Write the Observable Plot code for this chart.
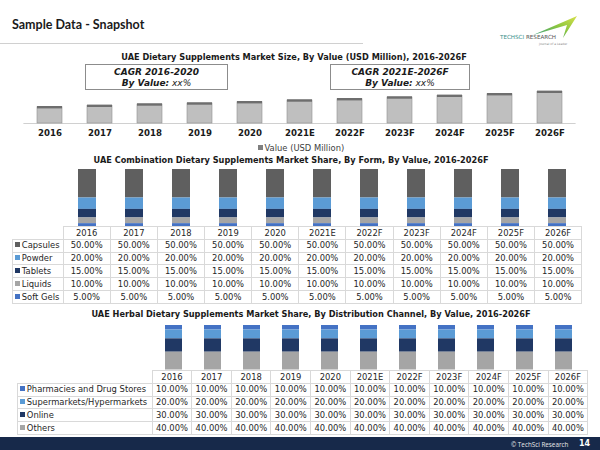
<!DOCTYPE html>
<html><head><meta charset="utf-8">
<script src="https://cdn.jsdelivr.net/npm/d3@7"></script>
<script src="https://cdn.jsdelivr.net/npm/@observablehq/plot@0.6"></script>
<style>
body{margin:0;background:#fff;}
#page{position:relative;width:600px;height:450px;overflow:hidden;font-family:"DejaVu Sans",Verdana,sans-serif;color:#262626;}
.abs{position:absolute;}
.title{position:absolute;width:600px;text-align:center;white-space:nowrap;font-weight:bold;color:#1a1a1a;line-height:1;}
.cagr{position:absolute;border:1px solid #8c8c8c;background:#fff;text-align:center;font-style:italic;font-size:9px;line-height:11px;color:#1a1a1a;box-sizing:border-box;padding-top:2px;}
table.dt{position:absolute;border-collapse:collapse;table-layout:fixed;font-size:8.4px;color:#262626;}
table.dt td{border:1px solid #d9d9d9;padding:0;text-align:center;white-space:nowrap;overflow:hidden;line-height:1;}
table.dt td.lab{text-align:left;padding-left:2px;}
table.dt td.blank{border:none;}
.sw{display:inline-block;width:5px;height:5px;margin-right:1.5px;vertical-align:1px;}
svg{overflow:visible;}
</style></head><body><div id="page"></div>
<script>
// ---------- data ----------
const years = ["2016","2017","2018","2019","2020","2021E","2022F","2023F","2024F","2025F","2026F"];
const marketValue = [163,177,190,200,213,230,243,260,277,293,317];
const marketLegend = "Value (USD Million)";

const formSeries = ["Capsules","Powder","Tablets","Liquids","Soft Gels"];
const formColors = ["#5f5f5f","#5b9bd5","#203864","#a5a5a5","#4472c4"];
const capsulesShare = [50,50,50,50,50,50,50,50,50,50,50];
const powderShare   = [20,20,20,20,20,20,20,20,20,20,20];
const tabletsShare  = [15,15,15,15,15,15,15,15,15,15,15];
const liquidsShare  = [10,10,10,10,10,10,10,10,10,10,10];
const softGelsShare = [5,5,5,5,5,5,5,5,5,5,5];

const channelSeries = ["Pharmacies and Drug Stores","Supermarkets/Hypermarkets","Online","Others"];
const channelColors = ["#4472c4","#5b9bd5","#203864","#a5a5a5"];
const pharmaciesShare   = [10,10,10,10,10,10,10,10,10,10,10];
const supermarketsShare = [20,20,20,20,20,20,20,20,20,20,20];
const onlineShare       = [30,30,30,30,30,30,30,30,30,30,30];
const othersShare       = [40,40,40,40,40,40,40,40,40,40,40];

const pageTitle = "Sample Data - Snapshot";
const title1 = "UAE Dietary Supplements Market Size, By Value (USD Million), 2016-2026F";
const title2 = "UAE Combination Dietary Supplements Market Share, By Form, By Value, 2016-2026F";
const title3 = "UAE Herbal Dietary Supplements Market Share, By Distribution Channel, By Value, 2016-2026F";
const cagrLeft = ["CAGR 2016-2020","By Value:","xx%"];
const cagrRight = ["CAGR 2021E-2026F","By Value:","xx%"];

// ---------- build ----------
const page = d3.select("#page");
function place(node, left, top){ node.style.position="absolute"; node.style.left=left+"px"; node.style.top=top+"px"; page.node().appendChild(node); }

// header
page.append("div").attr("class","abs").style("left","12px").style("top","17px")
  .style("font-family","Lato, 'Open Sans', sans-serif").style("font-weight","bold").style("font-size","12.5px").style("color","#1a1a1a").text(pageTitle);
page.append("div").attr("class","abs").style("left","0px").style("top","43px").style("width","363px").style("height","1px").style("background","#d0d0d0");

// logo
page.append("div").attr("class","abs").style("left","497px").style("top","14px").html(`
<svg width="84" height="36" viewBox="0 0 84 36">
 <defs><linearGradient id="lg" x1="0" y1="1" x2="1" y2="0"><stop offset="0" stop-color="#2e9a8a"/><stop offset="0.55" stop-color="#8cc63f"/><stop offset="1" stop-color="#d7e04a"/></linearGradient></defs>
 <path d="M36 21 L80 2 L66 24 L70 11 Z" fill="url(#lg)"/>
 <text x="3" y="25" font-family="DejaVu Sans" font-size="5.6" fill="#3a8f8a">TECHSCI <tspan fill="#555">RESEARCH</tspan></text>
 <text x="42" y="31" font-family="DejaVu Sans" font-size="3" fill="#888">Journal of a Leader</text>
</svg>`);

// chart 1 title
page.append("div").attr("class","title").style("left",(294-300)+"px").style("top","53px").style("font-size","8.2px").text(title1);

// chart 1
const d1 = years.map((y,i)=>({year:y, value:marketValue[i]}));
const p1 = Plot.plot({
  width:600, height:50, marginTop:0, marginBottom:16, marginLeft:23.4, marginRight:24.4,
  x:{domain:years, paddingInner:0.5, paddingOuter:0.25, label:null},
  y:{domain:[0,340], axis:null},
  style:{fontFamily:"DejaVu Sans", fontSize:"8.6px", color:"#1a1a1a", background:"transparent"},
  marks:[
    Plot.ruleY([0],{stroke:"#d0d0d0"}),
    Plot.barY(d1,{x:"year", y:"value", fill:"#bfbfbf", stroke:"#8f8f8f", strokeWidth:0.6}),
    Plot.tickY(d1,{x:"year", y:"value", stroke:"#6e6e6e", strokeWidth:2.4}),
    Plot.axisX({tickSize:0, tickPadding:6, fontWeight:"bold", label:null})
  ]
});
place(p1, 0, 89);

// CAGR boxes
function cagr(lines, left, width){
  page.append("div").attr("class","cagr").style("left",left+"px").style("top","64px").style("width",width+"px").style("height","26px")
   .html(`<b>${lines[0]}</b><br><b>${lines[1]}</b> ${lines[2]}`);
}
cagr(cagrLeft, 85, 143);
cagr(cagrRight, 330, 140);

// chart 1 legend
page.append("div").attr("class","abs").style("left","258px").style("top","143px").style("font-size","8.4px").style("color","#404040")
  .html(`<span class="sw" style="background:#7f7f7f"></span>${marketLegend}`);

// chart 2 title
page.append("div").attr("class","title").style("left",(291-300)+"px").style("top","156px").style("font-size","8.2px").text(title2);

// chart 2 bars
const formArrays = [capsulesShare,powderShare,tabletsShare,liquidsShare,softGelsShare];
const d2 = formSeries.flatMap((s,k)=>years.map((y,i)=>({year:y, series:s, value:formArrays[k][i]})));
const p2 = Plot.plot({
  width:600, height:57, marginTop:0, marginBottom:0, marginLeft:62.5, marginRight:18.9,
  x:{domain:years, paddingInner:0.62, paddingOuter:0.31, axis:null},
  y:{domain:[0,100], axis:null},
  color:{domain:formSeries, range:formColors},
  style:{background:"transparent"},
  marks:[
    Plot.barY(d2,{x:"year", y:"value", fill:"series", order:formSeries.slice().reverse()})
  ]
});
place(p2, 0, 169);

// tables
function table(series, colors, arrays, left, top, labW, colW, rowH){
  const t = page.append("table").attr("class","dt").style("left",left+"px").style("top",top+"px")
    .style("width",(labW+colW*years.length)+"px");
  const cg = t.append("colgroup");
  cg.append("col").style("width",labW+"px");
  years.forEach(()=>cg.append("col").style("width",colW+"px"));
  const hr = t.append("tr").style("height",rowH+"px");
  hr.append("td").attr("class","blank");
  years.forEach(y=>hr.append("td").text(y));
  series.forEach((s,k)=>{
    const r = t.append("tr").style("height",rowH+"px");
    r.append("td").attr("class","lab").html(`<span class="sw" style="background:${colors[k]}"></span>${s}`);
    arrays[k].forEach(v=>r.append("td").text(d3.format(".2f")(v)+"%"));
  });
}
table(formSeries, formColors, formArrays, 12.3, 226, 50.3, 47.15, 12.8);

// chart 3 title
page.append("div").attr("class","title").style("left",(311-300)+"px").style("top","310px").style("font-size","8.2px").text(title3);

// chart 3 bars
const channelArrays = [pharmaciesShare,supermarketsShare,onlineShare,othersShare];
const d3data = channelSeries.flatMap((s,k)=>years.map((y,i)=>({year:y, series:s, value:channelArrays[k][i]})));
const p3 = Plot.plot({
  width:600, height:44.5, marginTop:0, marginBottom:0, marginLeft:150.9, marginRight:13.5,
  x:{domain:years, paddingInner:0.57, paddingOuter:0.285, axis:null},
  y:{domain:[0,100], axis:null},
  color:{domain:channelSeries, range:channelColors},
  style:{background:"transparent"},
  marks:[
    Plot.barY(d3data,{x:"year", y:"value", fill:"series", order:channelSeries.slice().reverse()})
  ]
});
place(p3, 0, 325);
table(channelSeries, channelColors, channelArrays, 17.3, 370, 134.4, 39.6, 12.8);

// footer
page.append("div").attr("class","abs").style("left","0px").style("top","437px").style("width","600px").style("height","13px").style("background","#17294a");
page.append("div").attr("class","abs").style("left","511px").style("top","440px").style("font-size","6.3px").style("color","#e8e8e8").style("font-family","'Open Sans', sans-serif").text("© TechSci Research");
page.append("div").attr("class","abs").style("left","579px").style("top","438.5px").style("font-size","8px").style("font-weight","bold").style("color","#ffffff").text("14");
</script>
</body></html>
